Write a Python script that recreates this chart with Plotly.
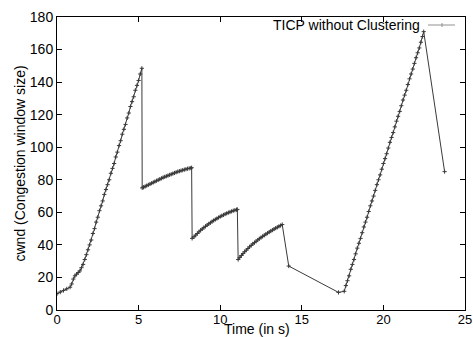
import plotly.graph_objects as go

# Segment data (time in s, cwnd)
seg1_t = [0.0, 0.2, 0.4, 0.6, 0.8, 0.9, 1.0, 1.1, 1.2, 1.3, 1.4,
          1.5, 1.6, 1.7, 1.8, 1.9, 2.0, 2.1, 2.2, 2.3, 2.4, 2.5, 2.6, 2.7, 2.8, 2.9,
          3.0, 3.1, 3.2, 3.3, 3.4, 3.5, 3.6, 3.7, 3.8, 3.9, 4.0, 4.1, 4.2, 4.3, 4.4,
          4.5, 4.6, 4.7, 4.8, 4.9, 5.0, 5.1, 5.2]
seg1_w = [10, 11, 12, 13, 14, 16, 19, 21, 22, 23, 24,
          26, 28, 31, 34, 37, 40, 43, 47, 50, 54, 57, 61, 64, 67, 71,
          74, 77, 80, 84, 87, 90, 94, 97, 101, 104, 108, 111, 114, 118, 121,
          125, 128, 131, 135, 138, 141, 145, 148.5]

seg2_t = [5.22, 5.3, 5.4, 5.5, 5.6, 5.7, 5.8, 5.9, 6.0, 6.1, 6.2, 6.3, 6.4, 6.5, 6.6,
          6.7, 6.8, 6.9, 7.0, 7.1, 7.2, 7.3, 7.4, 7.5, 7.6, 7.7, 7.8, 7.9, 8.0, 8.1, 8.2, 8.25]
seg2_w = [75, 75.4, 75.9, 76.4, 76.9, 77.4, 77.9, 78.4, 78.9, 79.4, 79.9, 80.4, 80.9, 81.4, 81.8,
          82.2, 82.6, 83.0, 83.4, 83.8, 84.2, 84.6, 85.0, 85.3, 85.6, 85.9, 86.2, 86.5, 86.8, 87.0, 87.2, 87.4]

seg3_t = [8.28, 8.4, 8.5, 8.6, 8.7, 8.8, 8.9, 9.0, 9.1, 9.2, 9.3, 9.4, 9.5, 9.6, 9.7, 9.8,
          9.9, 10.0, 10.1, 10.2, 10.3, 10.4, 10.5, 10.6, 10.7, 10.8, 10.9, 11.0, 11.05]
seg3_w = [44, 45, 46, 47, 48, 49, 49.8, 50.6, 51.4, 52.2, 52.9, 53.6, 54.3, 55.0, 55.6, 56.2,
          56.8, 57.4, 57.9, 58.4, 58.9, 59.4, 59.8, 60.2, 60.6, 61.0, 61.3, 61.6, 61.8]

seg4_t = [11.1, 11.2, 11.3, 11.4, 11.5, 11.6, 11.7, 11.8, 11.9, 12.0, 12.1, 12.2, 12.3, 12.4,
          12.5, 12.6, 12.7, 12.8, 12.9, 13.0, 13.1, 13.2, 13.3, 13.4, 13.5, 13.6, 13.7, 13.8]
seg4_w = [31, 32.3, 33.5, 34.7, 35.8, 36.8, 37.8, 38.8, 39.7, 40.6, 41.4, 42.2, 43.0, 43.8,
          44.5, 45.2, 45.9, 46.6, 47.2, 47.9, 48.5, 49.1, 49.7, 50.3, 50.8, 51.4, 51.9, 52.5]

seg5_t = [14.2, 17.25, 17.6, 17.7, 17.8, 17.9, 18.0, 18.1, 18.2, 18.3, 18.4, 18.5, 18.6, 18.7,
          18.8, 18.9, 19.0, 19.1, 19.2, 19.3, 19.4, 19.5, 19.6, 19.7, 19.8, 19.9, 20.0, 20.1,
          20.2, 20.3, 20.4, 20.5, 20.6, 20.7, 20.8, 20.9, 21.0, 21.1, 21.2, 21.3, 21.4, 21.5,
          21.6, 21.7, 21.8, 21.9, 22.0, 22.1, 22.2, 22.3, 22.4, 22.47, 23.75]
seg5_w = [27, 10.8, 11.5, 15, 18, 21, 25, 28, 31, 34.5, 38, 41, 44, 47.5,
          51, 54, 57, 60.5, 64, 67, 70, 73.5, 77, 80, 83, 86.5, 90, 93,
          96, 99.5, 103, 106, 109, 112.5, 116, 119, 122, 125.5, 129, 132, 135, 138.5,
          142, 145, 148, 151.5, 155, 158, 161, 164.5, 168, 171, 85]

x_ticks = [0, 5, 10, 15, 20, 25]
y_ticks = [0, 20, 40, 60, 80, 100, 120, 140, 160, 180]
series_name = "TICP without Clustering"

t = seg1_t + seg2_t + seg3_t + seg4_t + seg5_t
w = seg1_w + seg2_w + seg3_w + seg4_w + seg5_w

FONT = "Liberation Sans, Arial, Helvetica, sans-serif"
LINE = "#3a3a3a"

fig = go.Figure()
fig.add_trace(go.Scatter(
    x=t, y=w, mode="lines+markers", name=series_name, showlegend=False,
    line=dict(color=LINE, width=1),
    marker=dict(symbol="cross-thin", size=3, color=LINE,
                line=dict(color=LINE, width=1)),
))

axis_common = dict(
    showline=True, linecolor="black", linewidth=1, mirror="ticks",
    ticks="inside", ticklen=5, tickcolor="black", tickwidth=1,
    showgrid=False, zeroline=False,
)
fig.update_xaxes(range=[0, 25], tickvals=x_ticks, ticklabelstandoff=-3,
                 tickfont=dict(family=FONT, size=13, color="black"), **axis_common)
fig.update_yaxes(range=[0, 180], tickvals=y_ticks,
                 tickfont=dict(family=FONT, size=14, color="black"), **axis_common)

# legend drawn as annotation + shape sample (gnuplot style)
fig.add_annotation(xref="paper", yref="paper", x=(422 - 57) / 408, y=(310 - 24.5) / 293,
                   text=series_name, showarrow=False, xanchor="right", yanchor="middle",
                   font=dict(family=FONT, size=14, color="black"))
fig.add_shape(type="line", xref="paper", yref="paper",
              x0=(428 - 57) / 408, x1=(455 - 57) / 408,
              y0=(310 - 25) / 293, y1=(310 - 25) / 293,
              line=dict(color="#909090", width=1))
fig.add_shape(type="line", xref="paper", yref="paper",
              x0=(442 - 57) / 408, x1=(442 - 57) / 408,
              y0=(310 - 23) / 293, y1=(310 - 27) / 293,
              line=dict(color="#909090", width=1))

# axis titles
fig.add_annotation(xref="paper", yref="paper", x=(257 - 57) / 408, y=(310 - 337) / 293,
                   text="Time (in s)", showarrow=False, xanchor="center", yanchor="bottom",
                   yshift=-2,
                   font=dict(family=FONT, size=14, color="black"))
fig.add_annotation(xref="paper", yref="paper", x=(19 - 57) / 408, y=0.5,
                   text="cwnd (Congestion window size)", showarrow=False, textangle=-90,
                   xanchor="center", yanchor="middle",
                   font=dict(family=FONT, size=14, color="black"))

fig.update_layout(
    width=473, height=337,
    margin=dict(l=57, r=8, t=17, b=27, autoexpand=False),
    plot_bgcolor="white", paper_bgcolor="white",
)

fig.write_html("out.html", config={"displayModeBar": False},
               post_script="document.body.style.margin='0';document.body.style.overflow='hidden';")
